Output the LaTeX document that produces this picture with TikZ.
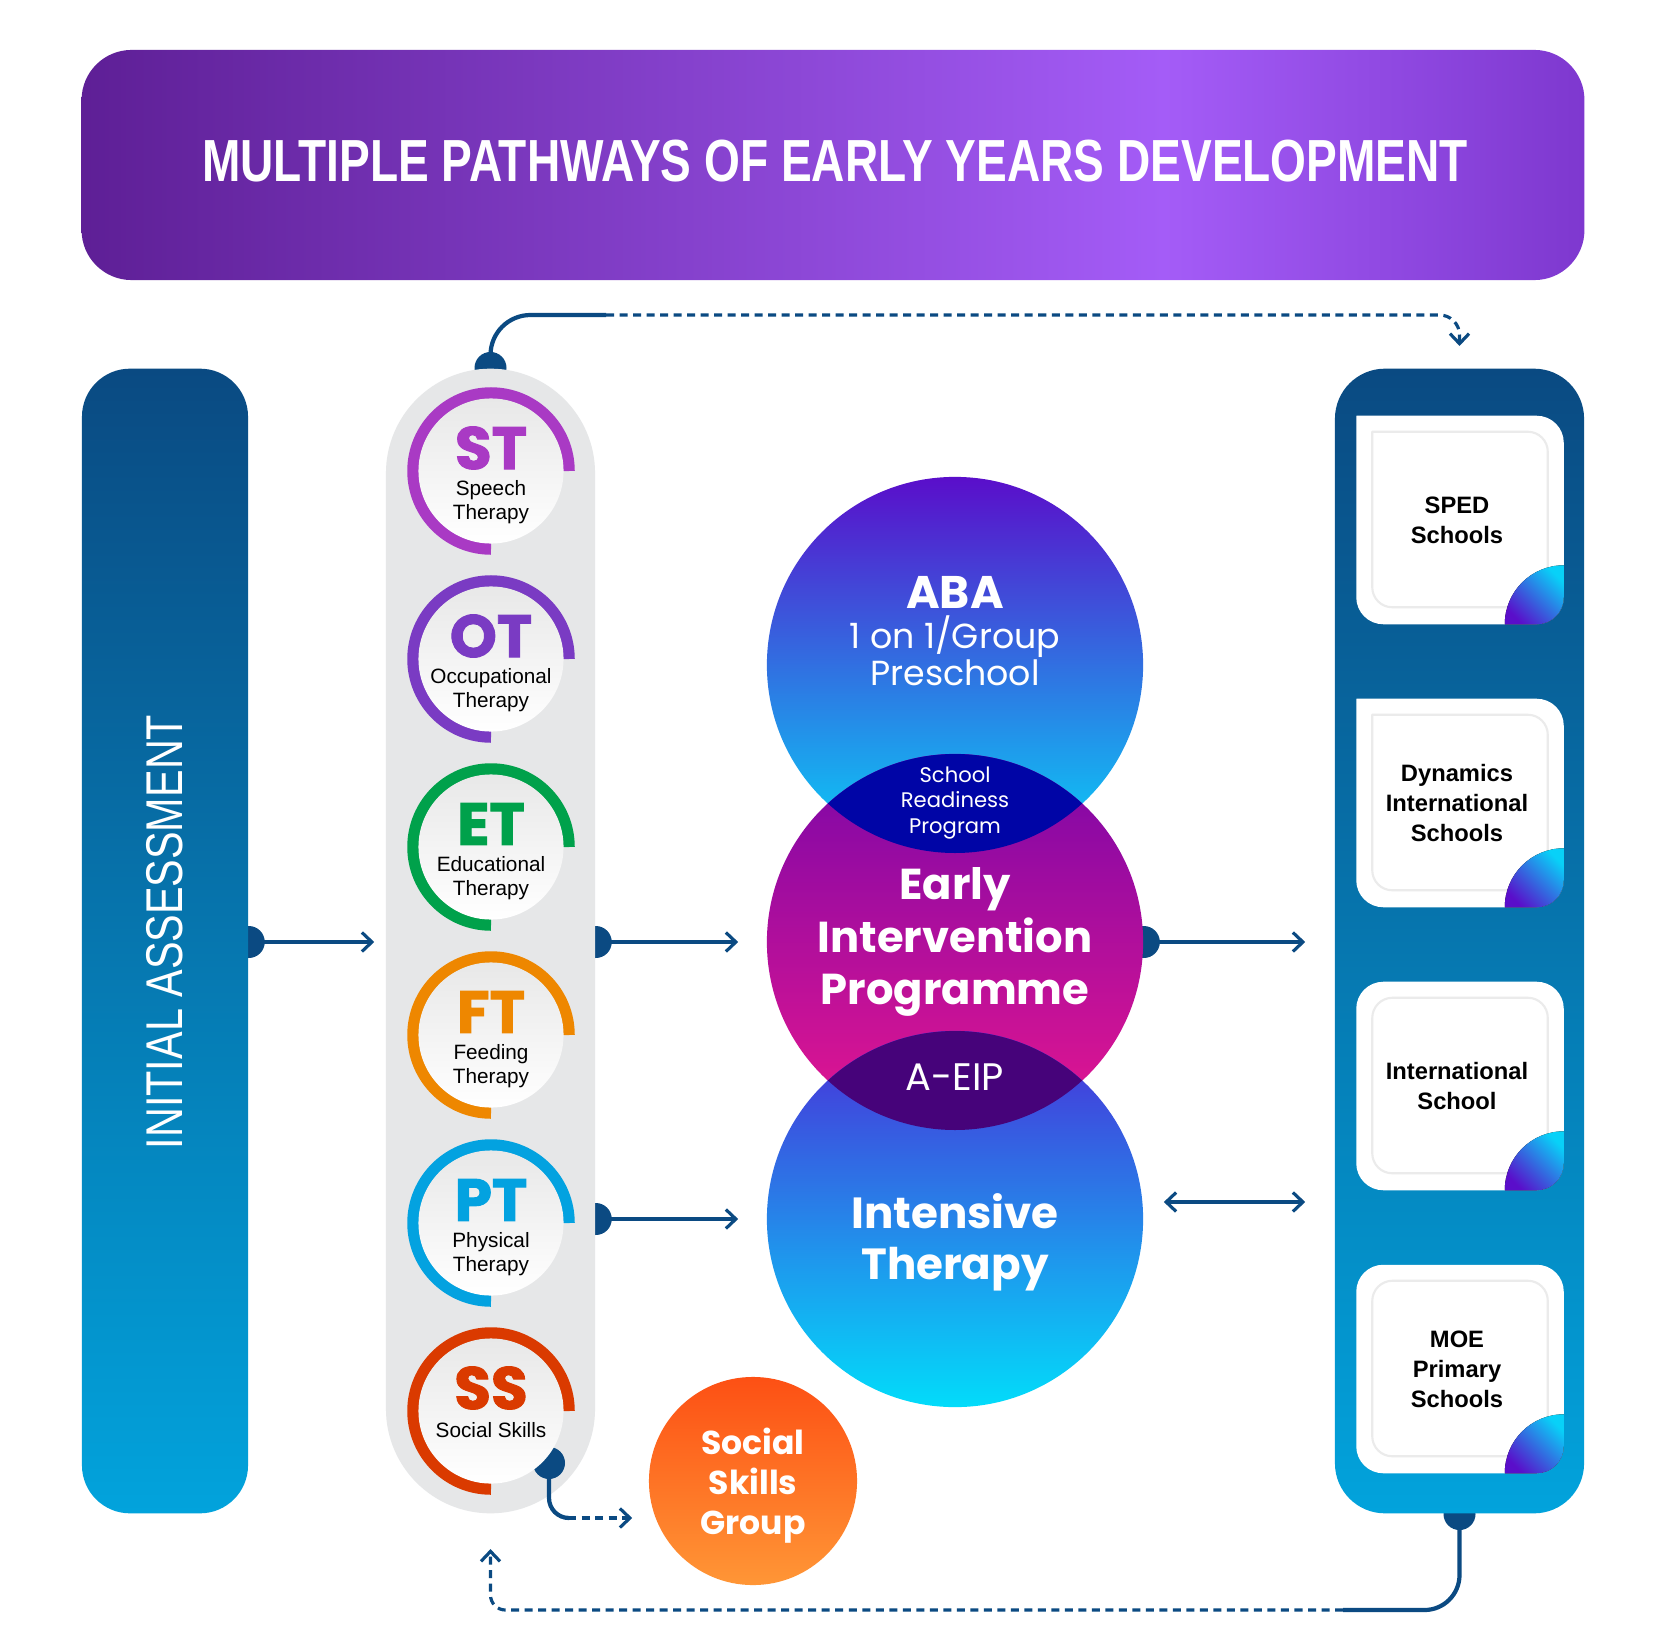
\documentclass[tikz,border=0pt]{standalone}
\usepackage{fontspec}
\setmainfont{Liberation Sans}
\newfontfamily\geofont{Poppins}
\newfontfamily\geoheavy{Poppins}[BoldFeatures={FakeBold=1.6}]
\usetikzlibrary{positioning,arrows.meta,backgrounds,calc}

\definecolor{linkblue}{HTML}{0B4A82}
\definecolor{barTop}{HTML}{0A4A82}
\definecolor{barBot}{HTML}{02A3DC}
\definecolor{pillgray}{HTML}{E6E7E8}
\definecolor{titleA}{HTML}{5E1F96}
\definecolor{titleB}{HTML}{A45CF7}
\definecolor{titleC}{HTML}{7E38CF}
\definecolor{stcol}{HTML}{A93AC4}
\definecolor{otcol}{HTML}{7A3BC3}
\definecolor{etcol}{HTML}{00A14B}
\definecolor{ftcol}{HTML}{EE8700}
\definecolor{ptcol}{HTML}{03A2E0}
\definecolor{sscol}{HTML}{DA3A00}
\definecolor{vPurple}{HTML}{5A0ECA}
\definecolor{vCyan}{HTML}{08D1F8}
\definecolor{eipTop}{HTML}{7B07A8}
\definecolor{eipBot}{HTML}{E6168F}
\definecolor{itTop}{HTML}{4A2DD8}
\definecolor{itBot}{HTML}{02DCFA}
\definecolor{lensA}{HTML}{0005A6}
\definecolor{lensB}{HTML}{46037A}
\definecolor{ssgTop}{HTML}{FD5014}
\definecolor{ssgBot}{HTML}{FF9636}

\pgfdeclarehorizontalshading{titleshade}{100bp}{color(0bp)=(titleA); color(25bp)=(titleA); color(61bp)=(titleB); color(75bp)=(titleC); color(100bp)=(titleC)}

\tikzset{
  knob/.style={fill=linkblue},
  flowline/.style={draw=linkblue, line width=0.9pt},
  flowarrow/.style={flowline, -{Straight Barb[length=1mm,width=1.9mm]}},
  loopline/.style={draw=linkblue, line width=1.2pt},
  dashline/.style={line width=0.9pt, dash pattern=on 0.08cm off 0.055cm},
  bluebar/.style={rectangle, rounded corners=0.48cm, top color=barTop, bottom color=barBot, minimum height=11.44cm, inner sep=0},
  pill/.style={rectangle, fill=pillgray, minimum width=2.09cm, minimum height=11.44cm, rounded corners=1.045cm, inner sep=0},
  tcirc/.style={circle, minimum size=1.45cm, inner sep=0, top color=black!9, bottom color=white},
  abbr/.style={font=\geoheavy\bfseries\fontsize{17}{17}\selectfont, inner sep=0},
  tlabel/.style={align=center, font=\fontsize{5.9}{6.8}\selectfont, inner sep=0},
  venn/.style={circle, minimum size=3.76cm, inner sep=0},
  venntxt/.style={text=white, align=center, inner sep=0},
  cardbox/.style={minimum width=2.06cm, minimum height=2.07cm, inner sep=0},
  cardrim/.style={draw=black!8, line width=0.6pt},
  cardtxt/.style={align=center, inner sep=0, font=\bfseries\fontsize{6.75}{8.5}\selectfont},
  leaf/.style={bottom color=vPurple, top color=vCyan, shading angle=-45}
}

\begin{document}
\begin{tikzpicture}[x=0.01cm,y=-0.01cm]
  \useasboundingbox (0,0) rectangle (1667,1646);

  % banner
  \node[rectangle, rounded corners=0.5cm, shade, shading=titleshade, minimum width=15.02cm, minimum height=2.3cm] (title) at (833,165) {};
  \node[text=white, inner sep=0, font=\bfseries\fontsize{16.9}{20}\selectfont] (titletxt) at (835,161) {\scalebox{0.775}[1]{MULTIPLE PATHWAYS OF EARLY YEARS DEVELOPMENT}};

  % three columns
  \node[bluebar, minimum width=1.66cm] (assess) at (165,941) {};
  \node[rotate=90, text=white, inner sep=0, font=\fontsize{14.7}{16}\selectfont] (assesstxt) at (165,932) {\scalebox{0.8}[1]{INITIAL ASSESSMENT}};
  \node[pill] (therapies) at (490.5,941) {};
  \node[bluebar, rounded corners=0.5cm, minimum width=2.49cm] (schools) at (1459.5,941) {};

  % therapy circles
  \coordinate (ssknob) at (549,1463);
  \fill[knob] (ssknob) circle[radius=16];
  \foreach \nm/\ab/\col/\lbl/\dy [count=\i] in {st/ST/stcol/{Speech\\Therapy}/31, ot/OT/otcol/{Occupational\\Therapy}/31, et/ET/etcol/{Educational\\Therapy}/31, ft/FT/ftcol/{Feeding\\Therapy}/31, pt/PT/ptcol/{Physical\\Therapy}/31, ss/SS/sscol/{Social Skills}/19}{
    \draw[\col, line width=0.115cm] (491,{471+188*(\i-1)}) ++(78,0) arc[start angle=0, end angle=-270, radius=78];
    \node[tcirc] (\nm) at (491,{471+188*(\i-1)}) {};
    \node[abbr, text=\col] (\nm abbr) at ($(\nm)+(0,-23)$) {\ab};
    \node[tlabel] (\nm lbl) at ($(\nm)+(0,\dy)$) {\lbl};
  }

  % venn of programmes
  \node[venn, top color=vPurple, bottom color=vCyan] (aba) at (955,665) {};
  \node[venn, top color=eipTop, bottom color=eipBot] (eip) at (955,942) {};
  \node[venn, top color=itTop, bottom color=itBot] (intens) at (955,1219) {};
  \begin{scope}
    \clip (aba.center) circle[radius=188];
    \fill[lensA] (eip.center) circle[radius=188];
  \end{scope}
  \begin{scope}
    \clip (intens.center) circle[radius=188];
    \fill[lensB] (eip.center) circle[radius=188];
  \end{scope}
  \node[venntxt, font=\geofont\bfseries\fontsize{13}{13}\selectfont] (abahead) at (955,592) {ABA};
  \node[venntxt, font=\geofont\fontsize{9.9}{10.6}\selectfont] (abasub) at (955,651) {1 on 1/Group\\Preschool};
  \node[venntxt, font=\geofont\fontsize{6}{7.25}\selectfont] (readiness) at (955,803) {School\\Readiness\\Program};
  \node[venntxt, font=\geofont\bfseries\fontsize{12.3}{14.9}\selectfont] (eiptxt) at (955,942) {Early\\Intervention\\Programme};
  \node[venntxt, font=\geofont\fontsize{10.9}{10.9}\selectfont] (aeip) at (955,1077) {A-EIP};
  \node[venntxt, font=\geofont\bfseries\fontsize{12.4}{14.5}\selectfont] (intenstxt) at (955,1242) {Intensive\\Therapy};

  \node[circle, minimum size=2.08cm, inner sep=0, top color=ssgTop, bottom color=ssgBot] (ssg) at (753,1481) {};
  \node[venntxt, font=\geofont\bfseries\fontsize{9.4}{11.4}\selectfont] (ssgtxt) at (753,1486) {Social\\Skills\\Group};

  % school cards
  \foreach \y/\txt/\r [count=\i] in {520/{SPED\\Schools}/0.1pt, 803/{Dynamics\\International\\Schools}/0.1pt, 1086/{International\\School}/0.27cm, 1369/{MOE\\Primary\\Schools}/0.27cm}{
    \node[cardbox] (card\i) at (1460,\y) {};
    \fill[white, rounded corners=0.27cm] (card\i.north) -- (card\i.north east) -- (card\i.south east) -- (card\i.south west) [rounded corners=\r] -- (card\i.north west) [rounded corners=0.27cm] -- cycle;
    \draw[cardrim, rounded corners=0.2cm] ($(card\i.north)+(0,16)$) -- ($(card\i.north east)+(-16,16)$) -- ($(card\i.south east)+(-16,-17)$) -- ($(card\i.south west)+(16,-17)$) [rounded corners=\r*0.75] -- ($(card\i.north west)+(16,16)$) [rounded corners=0.2cm] -- cycle;
    \fill[leaf] ([xshift=-0.59cm]card\i.south east) arc[start angle=180, end angle=270, radius=59] -- ([yshift=0.27cm]card\i.south east) arc[start angle=0, end angle=90, radius=27] -- cycle;
    \node[cardtxt] (card\i txt) at ([xshift=-0.03cm]card\i) {\txt};
  }

  % knobs under the shapes
  \begin{pgfonlayer}{background}
    \fill[white] (0,0) rectangle (1667,1646);
    \foreach \k in {assess.east |- eip, therapies.east |- eip, therapies.east |- intens, eip.east, therapies.north, schools.south}
      \fill[knob] (\k) circle[radius=16];
  \end{pgfonlayer}

  % arrows
  \draw[flowarrow, shorten >=0.11cm] (assess.east |- eip) -- (therapies.west |- eip);
  \draw[flowarrow, shorten >=0.28cm] (therapies.east |- eip) -- (eip.west);
  \draw[flowarrow, shorten >=0.28cm] (therapies.east |- intens) -- (intens.west);
  \draw[flowarrow, shorten >=0.29cm] (eip.east) -- (schools.west |- eip);
  \draw[flowline, {Straight Barb[length=1mm,width=1.9mm]}-{Straight Barb[length=1mm,width=1.9mm]}] ([xshift=0.2cm,yshift=0.17cm]intens.east) -- ([xshift=-0.29cm,yshift=0.17cm]schools.west |- intens);

  % loops
  \coordinate (topbend) at (606,315);
  \draw[loopline, rounded corners=0.4cm] (therapies.north) |- (topbend);
  \draw[loopline, dashline, rounded corners=0.2cm, -{Straight Barb[length=1mm,width=1.9mm]}] (topbend) -| ([yshift=0.22cm]schools.north);
  \coordinate (botbend) at (1343,1610);
  \draw[loopline, rounded corners=0.35cm] (schools.south) |- (botbend);
  \draw[loopline, dashline, rounded corners=0.15cm, -{Straight Barb[length=1mm,width=1.9mm]}] (botbend) -| ([yshift=-0.35cm]therapies.south);
  \coordinate (ssbend) at (568,1518);
  \draw[loopline, rounded corners=0.2cm] (ssknob) |- (ssbend);
  \draw[loopline, dashline, shorten >=0.16cm, -{Straight Barb[length=1mm,width=1.9mm]}] (ssbend) -- (ssg.west |- ssbend);
\end{tikzpicture}
\end{document}
